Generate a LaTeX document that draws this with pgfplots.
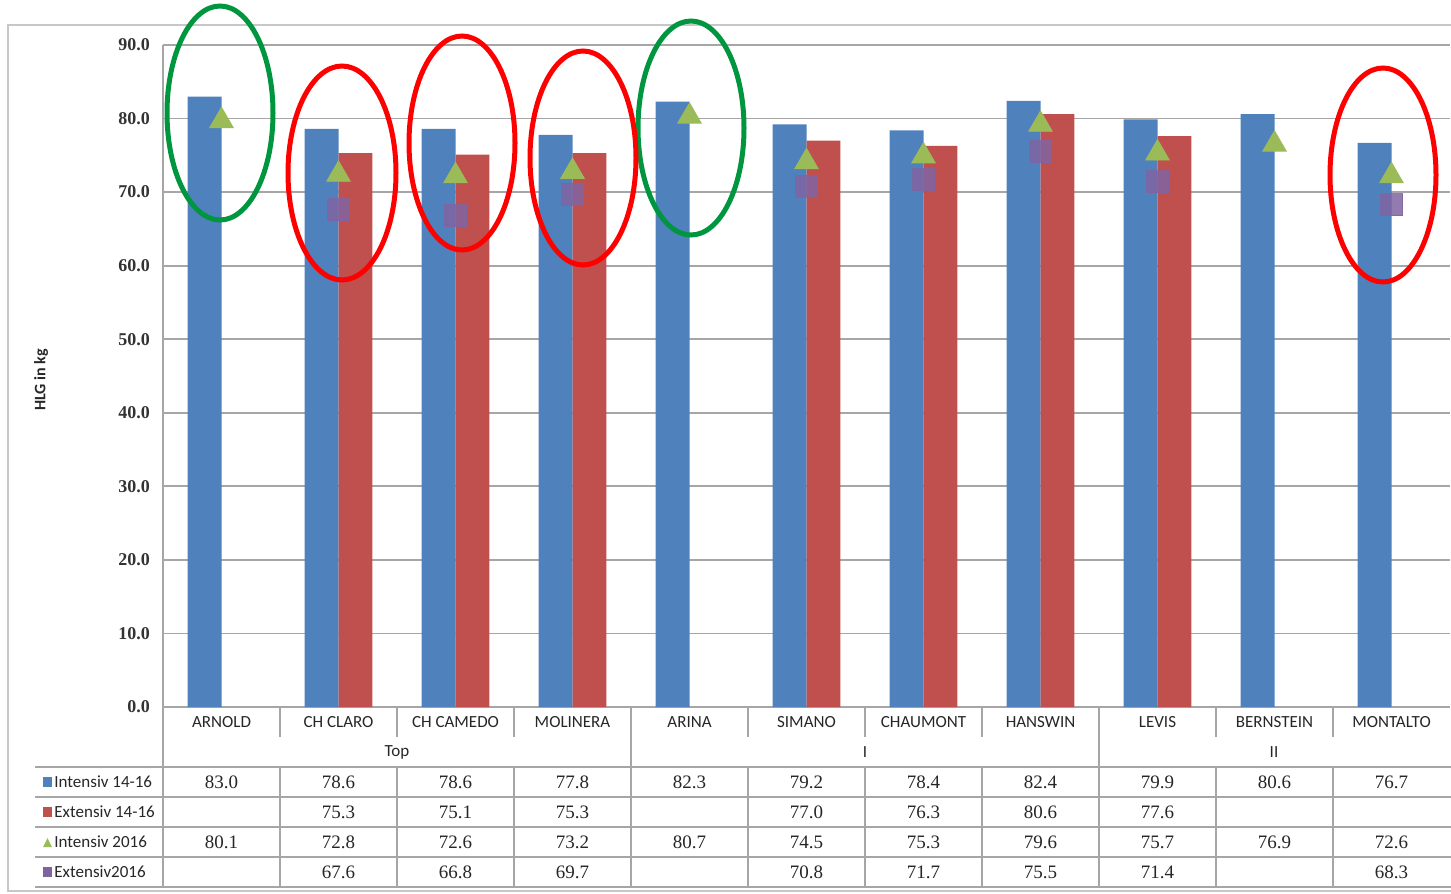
\documentclass[border=0pt]{standalone}
\usepackage{fontspec}
\setmainfont{Carlito}
\newfontfamily\numfont{Liberation Serif}
\usepackage{pgfplots}
\pgfplotsset{compat=1.18}
\usepackage{pgfplotstable}

\definecolor{intblue}{HTML}{4F81BD}
\definecolor{extred}{HTML}{C0504D}
\definecolor{intgreen}{HTML}{9BBB59}
\definecolor{extpurple}{HTML}{8064A2}
\definecolor{ringgreen}{HTML}{00963F}
\definecolor{ringred}{HTML}{FF0000}
\definecolor{gridgray}{HTML}{A6A6A6}

% HLG in kg; nan = not tested
\pgfplotstableread{
x  int   ext   int16  ext16
0  83.0  nan   80.1   nan
1  78.6  75.3  72.8   67.6
2  78.6  75.1  72.6   66.8
3  77.8  75.3  73.2   69.7
4  82.3  nan   80.7   nan
5  79.2  77.0  74.5   70.8
6  78.4  76.3  75.3   71.7
7  82.4  80.6  79.6   75.5
8  79.9  77.6  75.7   71.4
9  80.6  nan   76.9   nan
10 76.7  nan   72.6   68.3
}\hlg

\begin{document}
\begin{tikzpicture}[px/.style={x=0.5pt,y=-0.5pt}]
\path[use as bounding box] (0,0) rectangle (725.5pt,-447pt);
\begin{scope}[px]
  \draw[black!22, line width=1.2pt] (8,25) rectangle (1470,891);
\end{scope}

\begin{axis}[
  at={(81.5pt,-353.5pt)}, anchor=south west,
  scale only axis, width=643.5pt, height=331pt,
  xmin=-0.5, xmax=10.5, ymin=0, ymax=90,
  axis lines*=left,
  axis line style={gridgray, line width=0.8pt},
  xtick=\empty,
  ytick={0,10,...,90},
  major tick length=0pt,
  ymajorgrids, grid style={gridgray, line width=0.9pt},
  /pgf/number format/assume math mode=true,
  yticklabel style={font=\numfont\bfseries\fontsize{9}{10}\selectfont,
    text=black!80, xshift=-3pt,
    /pgf/number format/.cd, fixed, fixed zerofill, precision=1},
  clip=false,
]
\addplot[ybar, bar width=0.29, bar shift=-0.145, fill=intblue, draw=none]
  table[x=x, y=int]{\hlg};
\addplot[ybar, bar width=0.29, bar shift=0.145, fill=extred, draw=none]
  table[x=x, y=ext]{\hlg};
\addplot[only marks, mark=triangle*, mark size=6.8pt, color=intgreen,
  mark options={yshift=-1.5pt}]
  table[x=x, y=int16]{\hlg};
\addplot[only marks, mark=square*, mark size=5.5pt, color=extpurple, opacity=0.85]
  table[x=x, y=ext16]{\hlg};
\end{axis}

\begin{scope}[px, font=\fontsize{8.5}{10}\selectfont, text=black!85]
  \node[rotate=90, font=\bfseries\fontsize{8}{9}\selectfont] at (41,380) {HLG in kg};

  % table grid
  \foreach \k in {1,2,3,5,6,7,9,10}
    \draw[gridgray, line width=0.8pt] ({163+117*\k},707) -- ++(0,30);
  \foreach \k in {4,8}
    \draw[gridgray, line width=0.8pt] ({163+117*\k},707) -- (163+117*\k,767);
  \draw[gridgray, line width=0.8pt] (163,707) -- (163,887);
  \foreach \yy in {767,797,827,857,887}
    \draw[gridgray, line width=0.8pt] (35,\yy) -- (1451,\yy);
  \foreach \k in {1,...,10}
    \draw[gridgray, line width=0.8pt] ({163+117*\k},767) -- ++(0,120);

  % categories and groups
  \foreach \c [count=\i from 0] in {ARNOLD,CH CLARO,CH CAMEDO,MOLINERA,ARINA,SIMANO,CHAUMONT,HANSWIN,LEVIS,BERNSTEIN,MONTALTO}
    \node at ({221.5+117*\i},722) {\c};
  \node at (397,752) {Top};
  \node at (865,752) {I};
  \node at (1274,752) {II};

  % row headers
  \fill[intblue] (43,777) rectangle (52,787);
  \node[anchor=west, inner sep=0] at (54,782) {Intensiv 14-16};
  \fill[extred] (43,807) rectangle (52,817);
  \node[anchor=west, inner sep=0] at (54,812) {Extensiv 14-16};
  \fill[intgreen] (43,847) -- (52,847) -- (47.5,838) -- cycle;
  \node[anchor=west, inner sep=0] at (54,842) {Intensiv 2016};
  \fill[extpurple] (43,867) rectangle (52,877);
  \node[anchor=west, inner sep=0] at (54,872) {Extensiv2016};

  % values
  \begin{scope}[font=\numfont\fontsize{9.5}{11}\selectfont]
  \foreach \v [count=\i from 0] in {83.0,78.6,78.6,77.8,82.3,79.2,78.4,82.4,79.9,80.6,76.7}
    \node at ({221.5+117*\i},782) {\v};
  \foreach \v [count=\i from 0] in {,75.3,75.1,75.3,,77.0,76.3,80.6,77.6,,}
    \node at ({221.5+117*\i},812) {\v};
  \foreach \v [count=\i from 0] in {80.1,72.8,72.6,73.2,80.7,74.5,75.3,79.6,75.7,76.9,72.6}
    \node at ({221.5+117*\i},842) {\v};
  \foreach \v [count=\i from 0] in {,67.6,66.8,69.7,,70.8,71.7,75.5,71.4,,68.3}
    \node at ({221.5+117*\i},872) {\v};
  \end{scope}

  % highlight rings
  \draw[ringgreen, line width=2.5pt] (220,113) ellipse [x radius=26.5pt, y radius=53.5pt];
  \draw[ringgreen, line width=2.5pt] (691,128) ellipse [x radius=26.5pt, y radius=53.5pt];
  \draw[ringred, line width=2.5pt] (342,173) ellipse [x radius=27pt, y radius=53.5pt];
  \draw[ringred, line width=2.5pt] (462,143) ellipse [x radius=26.5pt, y radius=53.5pt];
  \draw[ringred, line width=2.5pt] (583,158) ellipse [x radius=26.5pt, y radius=53.5pt];
  \draw[ringred, line width=2.5pt] (1383,175) ellipse [x radius=26.5pt, y radius=53.5pt];
\end{scope}
\end{tikzpicture}
\end{document}
